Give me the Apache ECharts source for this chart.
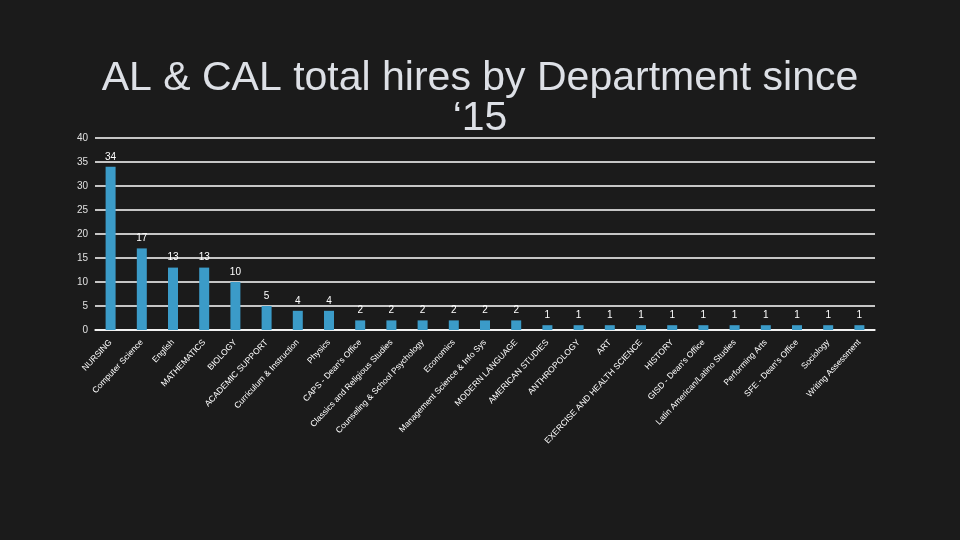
<!DOCTYPE html>
<html>
<head>
<meta charset="utf-8">
<script src="https://cdn.jsdelivr.net/npm/echarts@6/dist/echarts.min.js"></script>
<style>
html,body{margin:0;padding:0;background:#1b1b1b;}
#chart{width:960px;height:540px;}
</style>
</head>
<body>
<div id="chart"></div>
<script>
const categories = [
  "NURSING", "Computer Science", "English", "MATHEMATICS", "BIOLOGY",
  "ACADEMIC SUPPORT", "Curriculum & Instruction", "Physics", "CAPS - Dean's Office",
  "Classics and Religious Studies", "Counseling & School Psychology", "Economics",
  "Management Science & Info Sys", "MODERN LANGUAGE", "AMERICAN STUDIES",
  "ANTHROPOLOGY", "ART", "EXERCISE AND HEALTH SCIENCE", "HISTORY",
  "GISD - Dean's Office", "Latin American/Latino Studies", "Performing Arts",
  "SFE - Dean's Office", "Sociology", "Writing Assessment"
];
const hires = [34, 17, 13, 13, 10, 5, 4, 4, 2, 2, 2, 2, 2, 2, 1, 1, 1, 1, 1, 1, 1, 1, 1, 1, 1];
const titleLine1 = "AL & CAL total hires by Department since";
const titleLine2 = "\u201815";

const chart = echarts.init(document.getElementById('chart'));
chart.setOption({
  backgroundColor: '#1b1b1b',
  animation: false,
  title: [
    { text: titleLine1, left: 'center', top: 53,
      textStyle: { color: '#dde0e6', fontSize: 41, fontWeight: 'normal', fontFamily: 'Liberation Sans, Arial, sans-serif' } },
    { text: titleLine2, left: 'center', top: 93,
      textStyle: { color: '#dde0e6', fontSize: 41, fontWeight: 'normal', fontFamily: 'Liberation Sans, Arial, sans-serif' } }
  ],
  grid: { left: 95, right: 85, top: 138, bottom: 210, containLabel: false },
  xAxis: {
    type: 'category',
    data: categories,
    axisLine: { show: true, lineStyle: { color: '#ffffff', width: 1.5 } },
    axisTick: { show: false },
    axisLabel: {
      interval: 0, rotate: 47, margin: 11,
      color: '#ffffff', fontSize: 8.5,
      fontFamily: 'Liberation Sans, Arial, sans-serif'
    }
  },
  yAxis: {
    type: 'value', min: 0, max: 40, interval: 5,
    axisLine: { show: false }, axisTick: { show: false },
    axisLabel: { color: '#e0e0e0', fontSize: 10, margin: 7, fontFamily: 'Liberation Sans, Arial, sans-serif' },
    splitLine: { lineStyle: { color: '#ffffff', width: 1.5 } }
  },
  series: [{
    type: 'bar',
    data: hires,
    barWidth: 10,
    itemStyle: { color: '#3b9bc8' },
    label: { show: true, position: 'top', distance: 5, color: '#ffffff', fontSize: 10,
      fontFamily: 'Liberation Sans, Arial, sans-serif' }
  }]
});
</script>
</body>
</html>
